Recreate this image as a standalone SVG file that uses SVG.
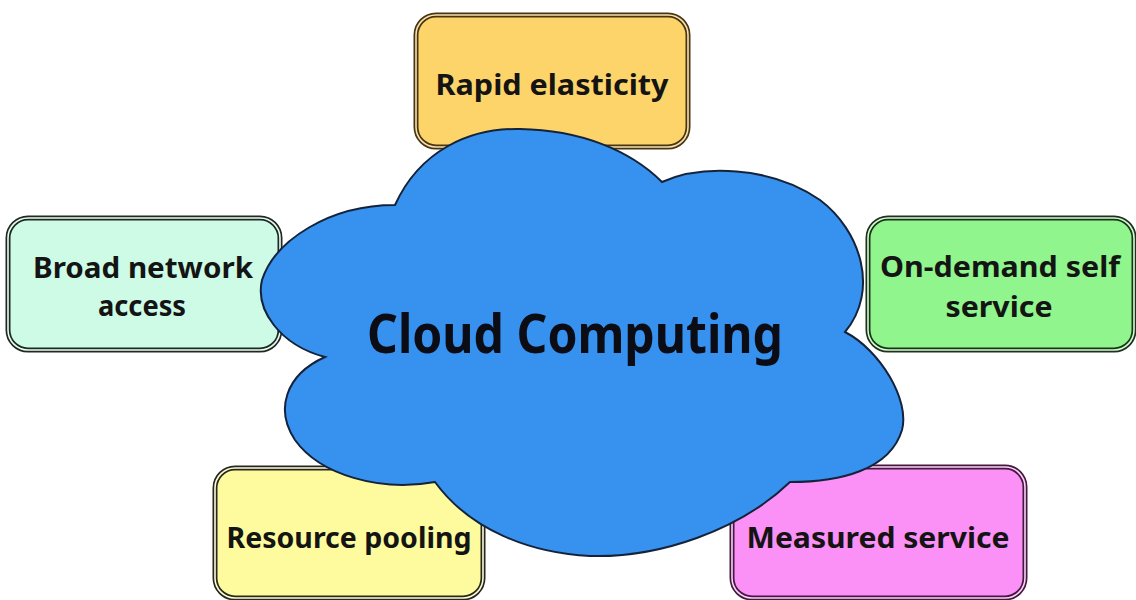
<svg xmlns="http://www.w3.org/2000/svg" width="1136" height="600" viewBox="0 0 1136 600">
  <style>
    .outer { stroke-width: 5; }
    .inner { fill: none; stroke-width: 1.6; }
    .lbl { font-family: "Comic Sans MS", "Noto Sans", "DejaVu Sans", sans-serif; font-weight: bold; font-size: 28px; text-anchor: middle; fill: #141414; }
    .title { font-family: "Comic Sans MS", "Noto Sans", "DejaVu Sans", sans-serif; font-weight: bold; font-size: 54px; text-anchor: middle; fill: #0c0c14; }
  </style>
  <rect width="1136" height="600" fill="#ffffff"/>

  <g id="node-rapid">
    <rect class="outer" x="416" y="15" width="272" height="132" rx="20" fill="#fdd469" stroke="#4a3410"/>
    <rect class="inner" x="416" y="15" width="272" height="132" rx="20" stroke="#f4e2b4"/>
    <text class="lbl" x="552" y="95" textLength="233" lengthAdjust="spacingAndGlyphs">Rapid elasticity</text>
  </g>

  <g id="node-broad">
    <rect class="outer" x="8" y="218" width="272" height="132" rx="20" fill="#cdfbe6" stroke="#1c2a22"/>
    <rect class="inner" x="8" y="218" width="272" height="132" rx="20" stroke="#eefdf6"/>
    <text class="lbl" x="143" y="278" textLength="220" lengthAdjust="spacingAndGlyphs">Broad network</text>
    <text class="lbl" x="142" y="316" textLength="88" lengthAdjust="spacingAndGlyphs">access</text>
  </g>

  <g id="node-ondemand">
    <rect class="outer" x="868" y="218" width="266" height="132" rx="20" fill="#8ff58c" stroke="#1a331a"/>
    <rect class="inner" x="868" y="218" width="266" height="132" rx="20" stroke="#d6fbd4"/>
    <text class="lbl" x="1000" y="277" textLength="240" lengthAdjust="spacingAndGlyphs">On-demand self</text>
    <text class="lbl" x="999" y="317" textLength="107" lengthAdjust="spacingAndGlyphs">service</text>
  </g>

  <g id="node-resource">
    <rect class="outer" x="215" y="468" width="268" height="130" rx="20" fill="#fdfb9d" stroke="#28281a"/>
    <rect class="inner" x="215" y="468" width="268" height="130" rx="20" stroke="#fdfde0"/>
    <text class="lbl" x="349" y="548" textLength="245" lengthAdjust="spacingAndGlyphs">Resource pooling</text>
  </g>

  <g id="node-measured">
    <rect class="outer" x="732" y="467" width="293" height="131" rx="20" fill="#fb90f7" stroke="#45183f"/>
    <rect class="inner" x="732" y="467" width="293" height="131" rx="20" stroke="#fbd4f8"/>
    <text class="lbl" x="878" y="548" textLength="263" lengthAdjust="spacingAndGlyphs">Measured service</text>
  </g>

  <g id="node-cloud">
    <path d="M395,205 C420,150 470,128 520,129 C580,130 630,150 662,182
             C700,165 770,165 820,200 C860,230 880,290 845,332
             C880,350 910,400 902,430 C890,470 840,482 790,482
             C740,530 660,558 590,556 C530,553 470,530 435,482
             C380,492 320,475 295,440 C275,410 285,375 325,357
             C280,345 255,310 262,280 C275,240 330,205 395,205 Z"
          fill="#3791ef" stroke="#15233a" stroke-width="2" stroke-linejoin="miter"/>
    <text class="title" x="575" y="353" textLength="416" lengthAdjust="spacingAndGlyphs">Cloud Computing</text>
  </g>
</svg>
